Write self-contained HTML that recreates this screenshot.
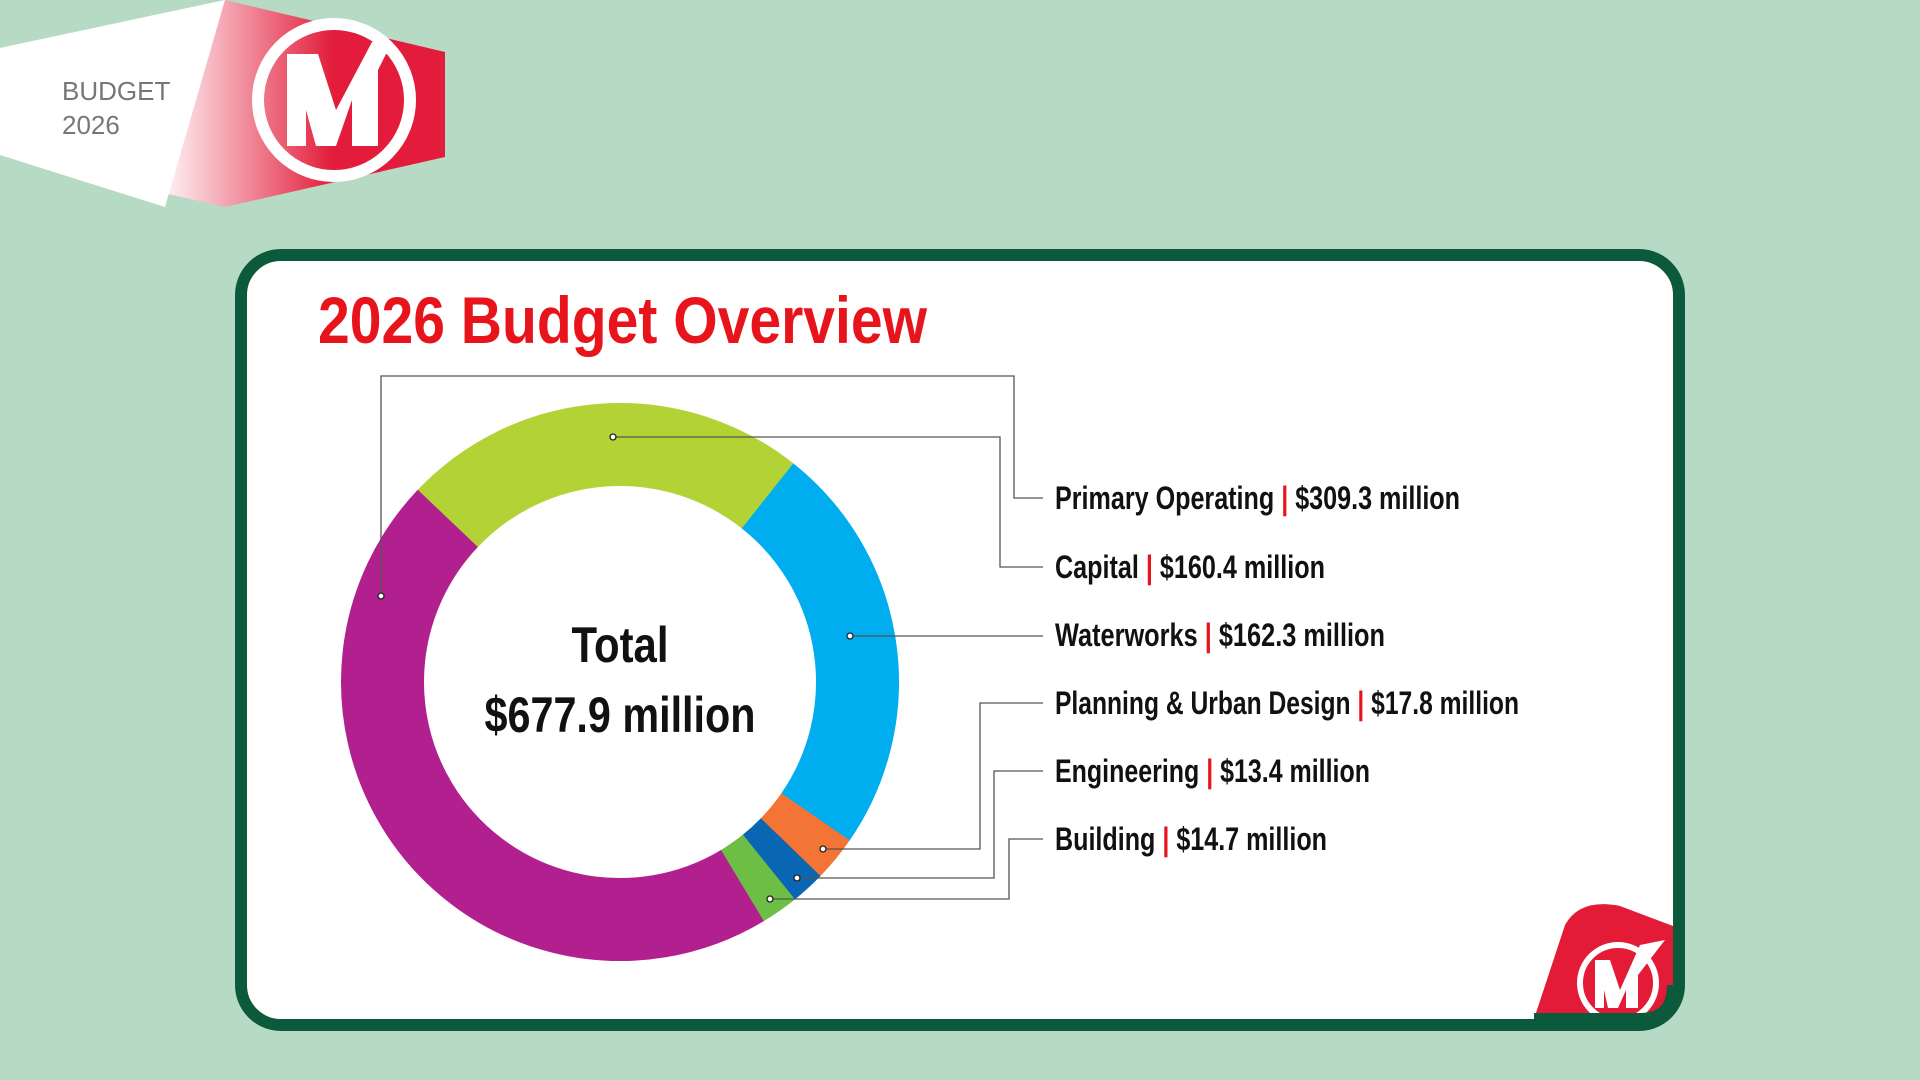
<!DOCTYPE html>
<html><head><meta charset="utf-8"><style>
html,body{margin:0;padding:0;width:1920px;height:1080px;overflow:hidden;background:#b6dac3;}
svg{display:block}
</style></head><body>
<svg width="1920" height="1080" viewBox="0 0 1920 1080" xmlns="http://www.w3.org/2000/svg">
<defs>
<linearGradient id="g1" x1="0" y1="0" x2="1" y2="0" gradientUnits="objectBoundingBox">
<stop offset="0.35" stop-color="#ffffff"/>
<stop offset="0.75" stop-color="#e21c3a"/>
</linearGradient>
</defs>
<!-- top-left badge -->
<polygon points="0,48 225,0 445,52 445,157 225,207 0,155" fill="url(#g1)"/>
<polygon points="0,48 225,0 165,207 0,155" fill="#ffffff"/>
<polygon points="225,0 445,52 445,157 225,207 165,207" fill="url(#g1)" opacity="0"/>
<text x="62" y="100" font-family="Liberation Sans, sans-serif" font-size="26" fill="#777">BUDGET</text>
<text x="62" y="134" font-family="Liberation Sans, sans-serif" font-size="26" fill="#777">2026</text>
<circle cx="334" cy="100" r="76" fill="none" stroke="#fff" stroke-width="12"/>
<polygon points="287,54 318,54 336,110 372,42 392,42 378,70 378,146 352,146 352,100 336,146 316,146 306,110 306,146 287,146" fill="#fff"/>
<!-- card -->
<rect x="241" y="255" width="1438" height="770" rx="40" fill="#fff" stroke="#0b5a3b" stroke-width="12"/>
<!-- bottom-right tab -->
<path d="M1534,1019 L1565,925 Q1580,898 1620,906 L1673,926 L1673,985 Q1673,1019 1640,1019 Z" fill="#e31b37"/>
<circle cx="1618" cy="983" r="38" fill="none" stroke="#fff" stroke-width="6"/>
<polygon points="1595,960 1610,960 1620,990 1640,945 1665,940 1638,975 1638,1008 1626,1008 1626,990 1618,1008 1608,1008 1604,990 1604,1008 1595,1008" fill="#fff"/>
<path d="M1534,1019 L1640,1019 Q1673,1019 1673,985" fill="none" stroke="#0b5a3b" stroke-width="12"/>
<!-- title -->
<text x="318" y="343" font-family="Liberation Sans, sans-serif" font-weight="bold" font-size="66" fill="#e8141c" textLength="609" lengthAdjust="spacingAndGlyphs">2026 Budget Overview</text>
<!-- donut -->
<g fill="none" stroke-width="83">
<circle cx="620" cy="682" r="237.5" stroke="#b2d235" stroke-dasharray="354 1500" transform="rotate(-136.8 620 682)"/>
<circle cx="620" cy="682" r="237.5" stroke="#00aeef" stroke-dasharray="358 1500" transform="rotate(-51.6 620 682)"/>
<circle cx="620" cy="682" r="237.5" stroke="#f37435" stroke-dasharray="40 1500" transform="rotate(34.6 620 682)"/>
<circle cx="620" cy="682" r="237.5" stroke="#0866b3" stroke-dasharray="30 1500" transform="rotate(44.05 620 682)"/>
<circle cx="620" cy="682" r="237.5" stroke="#6cbe45" stroke-dasharray="33 1500" transform="rotate(51.17 620 682)"/>
<circle cx="620" cy="682" r="237.5" stroke="#b21f8f" stroke-dasharray="682 1500" transform="rotate(58.98 620 682)"/>
</g>
<text x="620" y="662" text-anchor="middle" font-family="Liberation Sans Narrow, Liberation Sans, sans-serif" font-weight="bold" font-size="50" fill="#111" textLength="97" lengthAdjust="spacingAndGlyphs">Total</text>
<text x="620" y="732" text-anchor="middle" font-family="Liberation Sans Narrow, Liberation Sans, sans-serif" font-weight="bold" font-size="50" fill="#111" textLength="271" lengthAdjust="spacingAndGlyphs">$677.9 million</text>
<!-- leader lines -->
<g fill="none" stroke="#555" stroke-width="1.3">
<polyline points="381,596 381,376 1014,376 1014,498 1043,498"/>
<polyline points="613,437 1000,437 1000,567 1043,567"/>
<polyline points="850,636 1043,636"/>
<polyline points="823,849 980,849 980,703 1043,703"/>
<polyline points="797,878 994,878 994,771 1043,771"/>
<polyline points="770,899 1009,899 1009,839 1043,839"/>
</g>
<g fill="#fff" stroke="#222" stroke-width="1.3">
<circle cx="381" cy="596" r="3"/><circle cx="613" cy="437" r="3"/><circle cx="850" cy="636" r="3"/>
<circle cx="823" cy="849" r="3"/><circle cx="797" cy="878" r="3"/><circle cx="770" cy="899" r="3"/>
</g>
<!-- labels -->
<g font-family="Liberation Sans Narrow, Liberation Sans, sans-serif" font-weight="bold" font-size="32" fill="#111">
<text x="1055" y="509" textLength="405" lengthAdjust="spacingAndGlyphs">Primary Operating <tspan fill="#e8141c">|</tspan> $309.3 million</text>
<text x="1055" y="578" textLength="270" lengthAdjust="spacingAndGlyphs">Capital <tspan fill="#e8141c">|</tspan> $160.4 million</text>
<text x="1055" y="646" textLength="330" lengthAdjust="spacingAndGlyphs">Waterworks <tspan fill="#e8141c">|</tspan> $162.3 million</text>
<text x="1055" y="714" textLength="464" lengthAdjust="spacingAndGlyphs">Planning &amp; Urban Design <tspan fill="#e8141c">|</tspan> $17.8 million</text>
<text x="1055" y="782" textLength="315" lengthAdjust="spacingAndGlyphs">Engineering <tspan fill="#e8141c">|</tspan> $13.4 million</text>
<text x="1055" y="850" textLength="272" lengthAdjust="spacingAndGlyphs">Building <tspan fill="#e8141c">|</tspan> $14.7 million</text>
</g>
</svg>
</body></html>
